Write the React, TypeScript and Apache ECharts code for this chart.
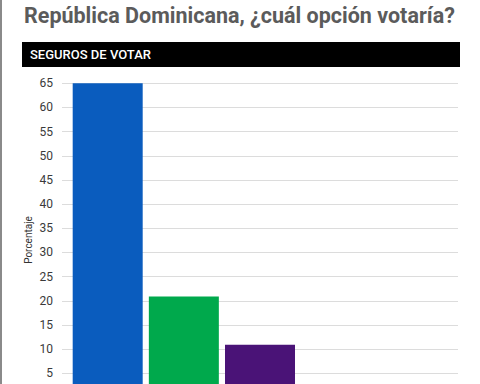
import React, { useEffect, useRef } from "react";
import * as echarts from "echarts";

const title = "República Dominicana, ¿cuál opción votaría?";
const subtitle = "SEGUROS DE VOTAR";
const yAxisName = "Porcentaje";
const values = [65.1, 20.9, 10.9, 1.8, 1.4];
const barColors = ["#0a5cbe", "#00a94c", "#4a1377", "#9e9e9e", "#9e9e9e"];

export default function App() {
  const ref = useRef<HTMLDivElement>(null);
  useEffect(() => {
    if (!ref.current) return;
    const chart = echarts.init(ref.current, null, { renderer: "svg" });
    chart.setOption({
      animation: false,
      backgroundColor: "#ffffff",
      textStyle: { fontFamily: "Roboto" },
      graphic: [
        { type: "line", shape: { x1: 1, y1: 0, x2: 1, y2: 420 }, style: { stroke: "#8a8a8a", lineWidth: 2 } },
        {
          type: "text", x: 24, y: 15,
          style: { text: title, fill: "#5b5b5b", font: "bold 21.5px Roboto", textVerticalAlign: "middle" },
        },
        { type: "rect", shape: { x: 22, y: 42, width: 438, height: 25 }, style: { fill: "#000000" } },
        {
          type: "text", x: 30, y: 54.5,
          style: { text: subtitle, fill: "#ffffff", font: "500 13px Roboto", textVerticalAlign: "middle" },
        },
        {
          type: "text", x: 28, y: 240, rotation: Math.PI / 2,
          style: {
            text: yAxisName, fill: "#333", font: "10px Roboto",
            textAlign: "center", textVerticalAlign: "middle",
          },
        },
      ],
      grid: { left: 62, right: 22, top: 83.3, bottom: 22.5, containLabel: false },
      xAxis: {
        type: "value", min: -0.6, max: 4.6, show: false,
        splitLine: { show: false },
      },
      yAxis: {
        type: "value", min: 0, max: 65, interval: 5,
        axisLine: { show: false }, axisTick: { show: false },
        axisLabel: { fontSize: 12, color: "#3a3a3a", margin: 9, fontFamily: "Roboto" },
        splitLine: { lineStyle: { color: "#dcdcdc", width: 1 } },
      },
      series: [
        {
          type: "bar",
          barWidth: 70,
          data: values.map((v, i) => ({ value: [i, v], itemStyle: { color: barColors[i] } })),
          label: {
            show: true, position: "insideBottom", distance: 2,
            color: "#555", fontSize: 11,
            formatter: (p: any) => String(Math.round(p.value[1])),
          },
        },
      ],
    });
    return () => chart.dispose();
  }, []);
  return (
    <div
      ref={ref}
      style={{ position: "fixed", top: 0, left: 0, width: 480, height: 420 }}
    />
  );
}
